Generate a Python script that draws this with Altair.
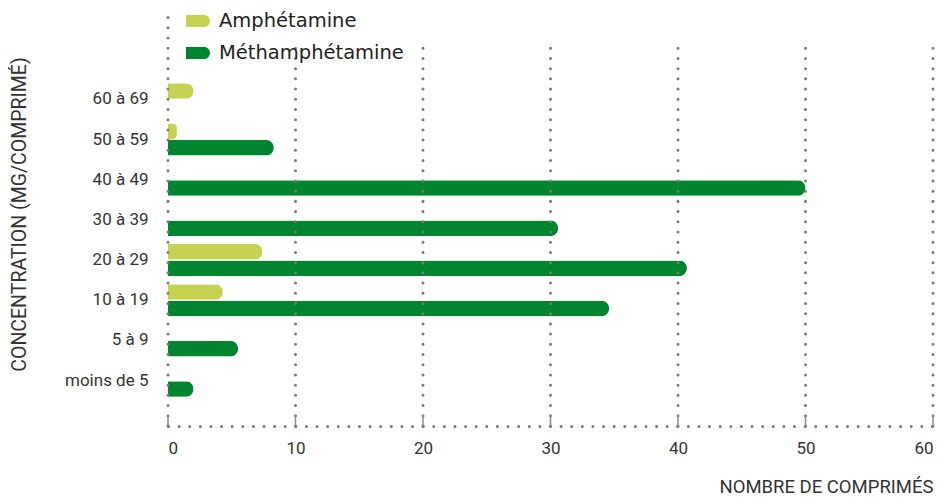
import altair as alt
import pandas as pd

categories = ["60 à 69", "50 à 59", "40 à 49", "30 à 39", "20 à 29", "10 à 19", "5 à 9", "moins de 5"]
series = ["Amphétamine", "Méthamphétamine"]
amphetamine = [2.0, 0.7, None, None, 7.4, 4.3, None, None]
methamphetamine = [None, 8.3, 50.0, 30.6, 40.7, 34.6, 5.5, 2.0]
x_ticks = [0, 10, 20, 30, 40, 50, 60]
colors = ["#c5d351", "#00852f"]

rows = []
for c, a, m in zip(categories, amphetamine, methamphetamine):
    if a is not None:
        rows.append({"cat": c, "series": series[0], "value": a})
    if m is not None:
        rows.append({"cat": c, "series": series[1], "value": m})
df = pd.DataFrame(rows)
ticks_df = pd.DataFrame({"t": x_ticks})

W, H = 765, 413
grid_color = "#7a7a7a"
text_color = "#333333"
font = "Roboto"
narrow = "Liberation Sans Narrow, Roboto"

xscale = alt.Scale(domain=[0, 60], nice=False, zero=True)
x_axis = alt.Axis(
    values=x_ticks, grid=False, ticks=False, domain=True,
    domainDash=[0.01, 10.6], domainCap="round", domainWidth=3, domainColor=grid_color,
    labelFont=narrow, labelFontSize=17, labelColor=text_color, labelPadding=14,
    labelFlush=True,
    title="NOMBRE DE COMPRIMÉS", titleFont=font, titleFontSize=18.5,
    titleFontWeight="normal", titleColor=text_color,
    titleX=W, titleY=66, titleAlign="right", titleBaseline="alphabetic",
)

legend_symbol = "M-1,-0.5 H0.5 A0.5,0.5 0 0 1 0.5,0.5 H-1 Z"

bars = alt.Chart(df).mark_bar(cornerRadiusEnd=8).encode(
    x=alt.X("value:Q", scale=xscale, axis=x_axis, title="NOMBRE DE COMPRIMÉS"),
    y=alt.Y(
        "cat:N",
        scale=alt.Scale(domain=categories, range=[70.3, 383.7], paddingInner=0.2, paddingOuter=0),
        axis=alt.Axis(
            domain=False, ticks=False, grid=False,
            labelFont=font, labelFontSize=17, labelColor=text_color, labelPadding=20,
            title="CONCENTRATION (MG/COMPRIMÉ)", titleFont=font, titleFontSize=19.5,
            titleFontWeight="normal", titleColor=text_color,
            titleX=-149, titleY=201, titleAlign="center", titleBaseline="middle", titleAngle=270,
        ),
    ),
    yOffset=alt.YOffset("series:N", scale=alt.Scale(domain=series, paddingInner=0.06)),
    color=alt.Color(
        "series:N",
        scale=alt.Scale(domain=series, range=colors),
        legend=alt.Legend(
            orient="none", legendX=18, legendY=-4, title=None,
            symbolType=legend_symbol, symbolSize=576, symbolStrokeWidth=0, symbolOpacity=1,
            labelFont="DejaVu Sans", labelFontSize=19.5, labelColor="#222222", labelLimit=400,
            labelOffset=9, rowPadding=10, padding=0,
        ),
    ),
)

dot_style = dict(color=grid_color, strokeWidth=3, strokeDash=[0.01, 10.2], strokeCap="round")

grid0 = alt.Chart(ticks_df).transform_filter("datum.t == 0").mark_rule(**dot_style).encode(
    x=alt.X("t:Q", scale=xscale, axis=x_axis, title="NOMBRE DE COMPRIMÉS"), y=alt.value(H), y2=alt.value(0)
)
gridn = alt.Chart(ticks_df).transform_filter("datum.t > 0").mark_rule(**dot_style).encode(
    x=alt.X("t:Q", scale=xscale, axis=x_axis, title="NOMBRE DE COMPRIMÉS"), y=alt.value(H), y2=alt.value(35)
)
tickmarks = alt.Chart(ticks_df).mark_rule(color="#8a8a8a", strokeWidth=1.5).encode(
    x=alt.X("t:Q", scale=xscale, axis=x_axis, title="NOMBRE DE COMPRIMÉS"), y=alt.value(402), y2=alt.value(H)
)

chart = alt.layer(bars, grid0, gridn, tickmarks).properties(
    width=W, height=H,
    padding={"left": 160, "top": 5, "right": 5, "bottom": 71},
    autosize=alt.AutoSizeParams(type="none"),
).configure_view(stroke=None)

chart.save("out.html", embed_options={"renderer": "svg", "actions": False})
